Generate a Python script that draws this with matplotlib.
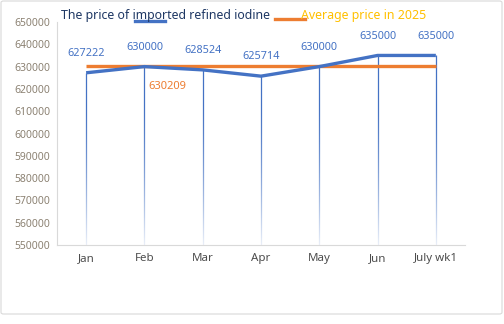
import matplotlib
matplotlib.use("Agg")
import matplotlib.pyplot as plt
import numpy as np
from matplotlib.lines import Line2D
from matplotlib.patches import FancyBboxPatch

plt.rcParams['font.family'] = ['Noto Sans', 'DejaVu Sans']

categories = ["Jan", "Feb", "Mar", "Apr", "May", "Jun", "July wk1"]
price = [627222, 630000, 628524, 625714, 630000, 635000, 635000]
avg_price = 630209
yticks = list(range(550000, 650001, 10000))

W, H = 504, 324
fig = plt.figure(figsize=(W/100, H/100), dpi=100)
ax = fig.add_axes([57/W, 1-245/H, (465-57)/W, (245-22)/H])

blue = "#4472C4"
orange = "#ED7D31"
x = np.arange(len(categories))

# drop lines
ymin = 550000
ax.vlines(x, ymin, price, color=blue, lw=0.9, zorder=2)
# white fade over the lower part of the drop lines
grad = np.ones((100, 2, 4))
a = np.linspace(0.92, 0.0, 100) ** 1.4
grad[:, :, 3] = a[:, None]
ax.imshow(grad, extent=(-0.5, 6.5, 550000, 615000), origin='lower',
          aspect='auto', zorder=2.2, interpolation='bilinear')

ax.plot(x, price, color=blue, lw=2.4, zorder=4, solid_capstyle='butt')
ax.plot(x, [avg_price]*len(x), color=orange, lw=2.4, zorder=3, solid_capstyle='butt')

for xi, yi in zip(x, price):
    ax.annotate(f"{yi}", (xi, yi), xytext=(0, 10), textcoords='offset points',
                ha='center', va='bottom', color=blue, fontsize=7.8, fontweight='medium')
ax.annotate(f"{avg_price}", (1, avg_price), xytext=(16.5, -11), textcoords='offset points',
            ha='center', va='top', color=orange, fontsize=8)

ax.set_xlim(-0.5, 6.5)
ax.set_ylim(550000, 650000)
ax.set_yticks(yticks)
ax.set_yticklabels([str(v) for v in yticks], color="#8c8273", fontsize=7.5)
ax.set_xticks(x)
ax.set_xticklabels(categories, color="#4d4d4d", fontsize=8.3)
ax.tick_params(axis='both', length=0, pad=6)
ax.tick_params(axis='y', pad=5)
for s in ['top', 'right']:
    ax.spines[s].set_visible(False)
ax.spines['left'].set_color('#d9d9d9')
ax.spines['bottom'].set_color('#d9d9d9')

# legend drawn manually
fig.text(61/W, 1-16/H, "The price of imported refined iodine", color="#1F3864",
         fontsize=8.9, va='center', ha='left')
fig.add_artist(Line2D([135/W, 165/W], [1-21/H, 1-21/H], color=blue, lw=2.4))
fig.add_artist(Line2D([275/W, 305/W], [1-19/H, 1-19/H], color=orange, lw=2.4))
fig.text(301/W, 1-15/H, "Average price in 2025", color="#FFC000",
         fontsize=8.9, va='center', ha='left', fontweight='bold')

fig.add_artist(FancyBboxPatch((1/W, 1-314/H), 501/W, 313/H,
                              boxstyle="round,pad=0,rounding_size=0.005",
                              transform=fig.transFigure, fill=False,
                              edgecolor='#d9d9d9', lw=0.8))

fig.savefig("out.png", dpi=100)
